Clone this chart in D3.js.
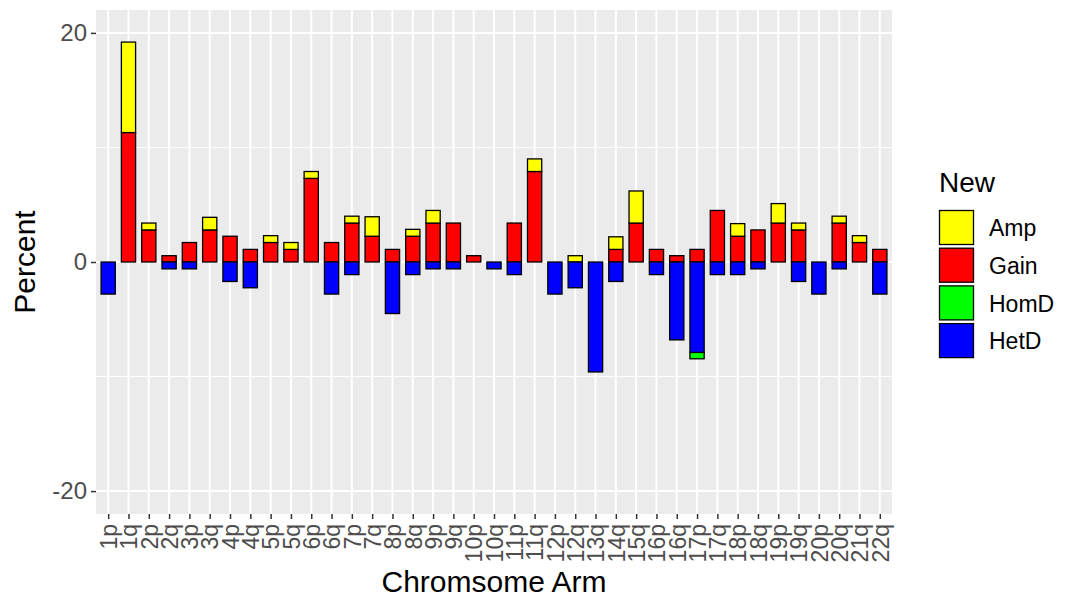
<!DOCTYPE html>
<html>
<head>
<meta charset="utf-8">
<script src="https://cdn.jsdelivr.net/npm/d3@7"></script>
<style>
  body { margin: 0; background: #fff; }
  text { font-family: "Liberation Sans", Arial, sans-serif; }
</style>
</head>
<body>
<div id="chart"></div>
<script>
// chromosome arms on the x axis
var arms = ["1p","1q","2p","2q","3p","3q","4p","4q","5p","5q","6p","6q","7p","7q",
  "8p","8q","9p","9q","10p","10q","11p","11q","12p","12q","13q","14q","15q",
  "16p","16q","17p","17q","18p","18q","19p","19q","20p","20q","21q","22q"];

// percent per arm
var gain = [0,11.3,2.8,0.55,1.7,2.8,2.25,1.1,1.7,1.1,7.3,1.7,3.4,2.25,
  1.1,2.25,3.4,3.4,0.55,0,3.4,7.9,0,0,0,1.1,3.4,
  1.1,0.55,1.1,4.5,2.25,2.8,3.4,2.8,0,3.4,1.7,1.1];
var amp = [0,7.9,0.6,0,0,1.1,0,0,0.6,0.6,0.6,0,0.6,1.7,
  0,0.6,1.1,0,0,0,0,1.1,0,0.55,0,1.1,2.8,
  0,0,0,0,1.1,0,1.7,0.6,0,0.6,0.6,0];
var hetd = [-2.8,0,0,-0.6,-0.6,0,-1.7,-2.25,0,0,0,-2.8,-1.1,0,
  -4.5,-1.1,-0.6,-0.6,0,-0.6,-1.1,0,-2.8,-2.25,-9.6,-1.7,0,
  -1.1,-6.8,-7.9,-1.1,-1.1,-0.6,0,-1.7,-2.8,-0.6,0,-2.8];
var homd = [0,0,0,0,0,0,0,0,0,0,0,0,0,0,
  0,0,0,0,0,0,0,0,0,0,0,0,0,
  0,0,-0.55,0,0,0,0,0,0,0,0,0];

var types = ["Amp","Gain","HomD","HetD"];
var colors = ["#FFFF00","#FF0000","#00FF00","#0000FF"];
var yTicks = [-20, 0, 20];
var yMinor = [-10, 10];

var width = 1065, height = 602;
var pLeft = 96, pRight = 892, pTop = 10, pBottom = 514;

var svg = d3.select("#chart").append("svg")
  .attr("width", width)
  .attr("height", height);

var x = d3.scalePoint().domain(arms).range([pLeft, pRight]).padding(0.6);
var y = d3.scaleLinear().domain([-22, 22]).range([pBottom, pTop]);
var color = d3.scaleOrdinal().domain(types).range(colors);
var bw = x.step() * 0.7;

// panel
svg.append("rect")
  .attr("x", pLeft).attr("y", pTop)
  .attr("width", pRight - pLeft).attr("height", pBottom - pTop)
  .attr("fill", "#EBEBEB");

svg.selectAll(".minor").data(yMinor).enter().append("line")
  .attr("x1", pLeft).attr("x2", pRight)
  .attr("y1", function(d){ return y(d); }).attr("y2", function(d){ return y(d); })
  .attr("stroke", "#fff").attr("stroke-width", 1);
svg.selectAll(".major").data(yTicks).enter().append("line")
  .attr("x1", pLeft).attr("x2", pRight)
  .attr("y1", function(d){ return y(d); }).attr("y2", function(d){ return y(d); })
  .attr("stroke", "#fff").attr("stroke-width", 2);
svg.selectAll(".vgrid").data(arms).enter().append("line")
  .attr("x1", function(d){ return x(d); }).attr("x2", function(d){ return x(d); })
  .attr("y1", pTop).attr("y2", pBottom)
  .attr("stroke", "#fff").attr("stroke-width", 2);

// stacked segments: positives go up from 0 (Gain then Amp), negatives go down (HetD then HomD)
var segs = [];
arms.forEach(function(a, i) {
  var pos = 0, neg = 0;
  [["Gain", gain[i]], ["Amp", amp[i]], ["HetD", hetd[i]], ["HomD", homd[i]]].forEach(function(s) {
    var v = s[1];
    if (v > 0) { segs.push({arm: a, type: s[0], y0: pos, y1: pos + v}); pos += v; }
    else if (v < 0) { segs.push({arm: a, type: s[0], y0: neg, y1: neg + v}); neg += v; }
  });
});

svg.append("g").selectAll("rect").data(segs).enter().append("rect")
  .attr("x", function(d){ return x(d.arm) - bw / 2; })
  .attr("width", bw)
  .attr("y", function(d){ return y(Math.max(d.y0, d.y1)); })
  .attr("height", function(d){ return Math.abs(y(d.y0) - y(d.y1)); })
  .attr("fill", function(d){ return color(d.type); })
  .attr("stroke", "#000")
  .attr("stroke-width", 1.3);

// y axis
var yAxis = svg.append("g").attr("transform", "translate(" + pLeft + ",0)")
  .call(d3.axisLeft(y).tickValues(yTicks).tickFormat(function(d){ return String(d); })
    .tickSize(5).tickPadding(4));
yAxis.select(".domain").remove();
yAxis.selectAll("line").attr("stroke", "#333").attr("stroke-width", 1.5);
yAxis.selectAll("text").attr("fill", "#4D4D4D").attr("font-size", 24)
  .style("font-family", "'Liberation Sans', Arial, sans-serif");

// x axis
var xAxis = svg.append("g").attr("transform", "translate(0," + pBottom + ")")
  .call(d3.axisBottom(x).tickSize(5).tickPadding(4));
xAxis.select(".domain").remove();
xAxis.selectAll("line").attr("stroke", "#333").attr("stroke-width", 1.5);
xAxis.selectAll("text")
  .attr("fill", "#4D4D4D").attr("font-size", 23)
  .style("font-family", "'Liberation Sans', Arial, sans-serif")
  .attr("text-anchor", "end")
  .attr("transform", "rotate(-90)")
  .attr("x", -10).attr("y", 0).attr("dy", "0.36em");

// axis titles
svg.append("text")
  .attr("x", (pLeft + pRight) / 2).attr("y", 592)
  .attr("text-anchor", "middle").attr("font-size", 30)
  .text("Chromsome Arm");
svg.append("text")
  .attr("transform", "translate(35," + ((pTop + pBottom) / 2) + ") rotate(-90)")
  .attr("text-anchor", "middle").attr("font-size", 30)
  .text("Percent");

// legend
var legend = svg.append("g").attr("transform", "translate(939,0)");
legend.append("text").attr("x", 0).attr("y", 192).attr("font-size", 28).text("New");
var items = legend.selectAll(".key").data(types).enter().append("g")
  .attr("transform", function(d, i){ return "translate(0," + (210 + i * 37.7) + ")"; });
items.append("rect")
  .attr("x", 0.5).attr("y", 0.5).attr("width", 34).attr("height", 34)
  .attr("fill", function(d){ return color(d); })
  .attr("stroke", "#000").attr("stroke-width", 1.3);
items.append("text")
  .attr("x", 50).attr("y", 18).attr("dy", "0.36em")
  .attr("font-size", 23)
  .text(function(d){ return d; });
</script>
</body>
</html>
